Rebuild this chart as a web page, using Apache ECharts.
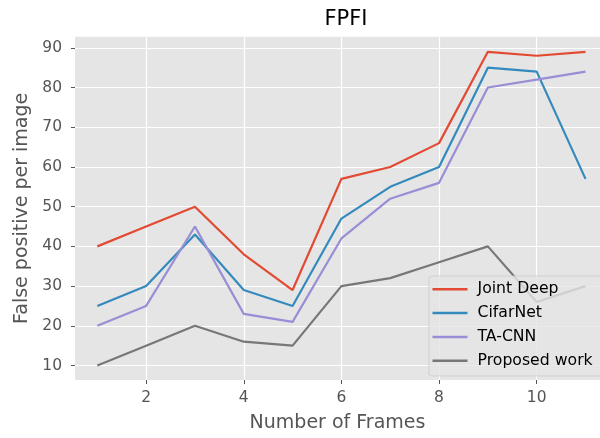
<!DOCTYPE html>
<html>
<head>
<meta charset="utf-8">
<script src="https://cdn.jsdelivr.net/npm/echarts@6.0.0/dist/echarts.min.js"></script>
<style>html,body{margin:0;padding:0;background:#fff;}#c{width:600px;height:438px;}</style>
</head>
<body>
<div id="c"></div>
<script>
const frames = [1, 2, 3, 4, 5, 6, 7, 8, 9, 10, 11];
const jointDeep = [40, 45, 50, 38, 29, 57, 60, 66, 89, 88, 89];
const cifarNet = [25, 30, 43, 29, 25, 47, 55, 60, 85, 84, 57];
const taCnn = [20, 25, 45, 23, 21, 42, 52, 56, 80, 82, 84];
const proposedWork = [10, 15, 20, 16, 15, 30, 32, 36, 40, 26, 30];
const seriesNames = ['Joint Deep', 'CifarNet', 'TA-CNN', 'Proposed work'];
const seriesColors = ['#E24A33', '#348ABD', '#988ED5', '#777777'];
const xTicks = [2, 4, 6, 8, 10];
const yTicks = [10, 20, 30, 40, 50, 60, 70, 80, 90];

const FONT = 'DejaVu Sans';
const allValues = [jointDeep, cifarNet, taCnn, proposedWork];

const chart = echarts.init(document.getElementById('c'), null, {renderer: 'canvas'});
chart.setOption({
  animation: false,
  backgroundColor: '#ffffff',
  title: {
    text: 'FPFI',
    left: 341,
    top: 4,
    textAlign: 'center',
    textStyle: {fontFamily: FONT, fontSize: 21, fontWeight: 'normal', color: '#000'}
  },
  grid: {
    left: 75, top: 36.7, width: 525, height: 346.6,
    show: true, backgroundColor: '#E5E5E5', borderWidth: 0
  },
  legend: {
    orient: 'vertical',
    left: 429, top: 276,
    data: seriesNames,
    icon: 'rect',
    itemWidth: 35, itemHeight: 2.5,
    itemGap: 5.8,
    padding: [4.3, 10, 6.3, 3.5],
    backgroundColor: 'rgba(229,229,229,0.8)',
    borderColor: 'rgba(204,204,204,0.8)',
    borderWidth: 1,
    borderRadius: 3,
    textStyle: {fontFamily: FONT, fontSize: 15.7, color: '#000', lineHeight: 18, padding: [0, 0, 0, 5]}
  },
  xAxis: {
    type: 'value',
    min: 0.543, max: 11.297,
    name: 'Number of Frames',
    nameLocation: 'middle',
    nameGap: 34,
    nameTextStyle: {fontFamily: FONT, fontSize: 19, color: '#555555'},
    axisLine: {show: false},
    axisTick: {show: true, customValues: xTicks, length: 4, lineStyle: {color: '#555555', width: 1}},
    axisLabel: {customValues: xTicks, margin: 10, fontFamily: FONT, fontSize: 15.5, color: '#555555'},
    splitLine: {show: true, lineStyle: {color: '#ffffff', width: 1.2}}
  },
  yAxis: {
    type: 'value',
    min: 6.35, max: 92.8,
    name: 'False positive per image',
    nameLocation: 'middle',
    nameRotate: 90,
    nameGap: 41,
    nameTextStyle: {fontFamily: FONT, fontSize: 19, color: '#555555'},
    axisLine: {show: false},
    axisTick: {show: true, customValues: yTicks, length: 4, lineStyle: {color: '#555555', width: 1}},
    axisLabel: {customValues: yTicks, margin: 13, fontFamily: FONT, fontSize: 15.5, color: '#555555'},
    splitLine: {show: true, lineStyle: {color: '#ffffff', width: 1.2}}
  },
  series: seriesNames.map((name, i) => ({
    name: name,
    type: 'line',
    data: frames.map((f, j) => [f, allValues[i][j]]),
    symbol: 'none',
    showSymbol: false,
    color: seriesColors[i],
    lineStyle: {color: seriesColors[i], width: 2.2},
    z: 2
  }))
});
</script>
</body>
</html>
